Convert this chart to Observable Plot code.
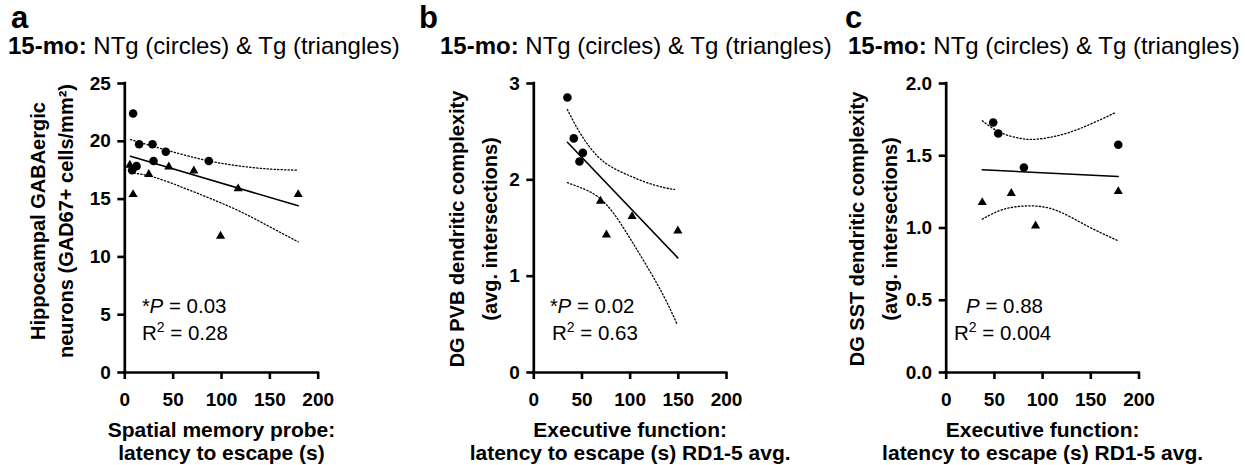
<!DOCTYPE html>
<html>
<head>
<meta charset="utf-8">
<script src="https://cdn.jsdelivr.net/npm/d3@7"></script>
<script src="https://cdn.jsdelivr.net/npm/@observablehq/plot@0.6"></script>
<style>
  html, body { margin: 0; padding: 0; background: #fff; }
  #root { position: relative; width: 1245px; height: 465px; overflow: hidden; background: #fff; }
  #root > .panel { position: absolute; top: 0; }
  #overlay { position: absolute; left: 0; top: 0; pointer-events: none; }
</style>
</head>
<body>
<div id="root"></div>
<script>
// ---------- shared labels ----------
const panelLetters = ["a", "b", "c"];
const titleBold = "15-mo:";
const titleRest = " NTg (circles) & Tg (triangles)";
const xTicks = [0, 50, 100, 150, 200];
const xLabels = [
  ["Spatial memory probe:", "latency to escape (s)"],
  ["Executive function:", "latency to escape (s) RD1-5 avg."],
  ["Executive function:", "latency to escape (s) RD1-5 avg."]
];
const yLabels = [
  ["Hippocampal GABAergic", "neurons (GAD67+ cells/mm²)"],
  ["DG PVB dendritic complexity", "(avg. intersections)"],
  ["DG SST dendritic complexity", "(avg. intersections)"]
];
const significance = ["*", "*", ""];
const pValues = ["0.03", "0.02", "0.88"];
const rSquared = ["0.28", "0.63", "0.004"];

// ---------- panel a ----------
const aYTicks = [0, 5, 10, 15, 20, 25];
const aNTgX = [8.6, 14.8, 28.6, 42.4, 29.7, 86.9, 12.1, 7.6];
const aNTgY = [22.4, 19.75, 19.75, 19.1, 18.3, 18.3, 17.85, 17.5];
const aTgX = [5.2, 8.6, 24.8, 45.5, 71.4, 117.2, 99.0, 179.3];
const aTgY = [17.95, 15.4, 17.15, 17.8, 17.45, 15.9, 11.8, 15.4];
const aFitX = [5.9, 179.3];
const aFitY = [18.71, 14.42];
const aUpperX = [5.9, 30, 60, 90, 120, 150, 179.3];
const aUpperY = [20.15, 19.55, 18.85, 18.25, 17.85, 17.6, 17.5];
const aLowerX = [5.9, 30, 60, 90, 120, 150, 179.3];
const aLowerY = [17.3, 16.9, 16.0, 15.0, 13.9, 12.6, 11.3];

// ---------- panel b ----------
const bYTicks = [0, 1, 2, 3];
const bNTgX = [34.9, 41.5, 50.9, 47.4];
const bNTgY = [2.855, 2.43, 2.28, 2.19];
const bTgX = [69.2, 75.4, 102.0, 149.5];
const bTgY = [1.78, 1.43, 1.62, 1.47];
const bFitX = [34.9, 149.5];
const bFitY = [2.39, 1.19];
const bUpperX = [34.9, 48.4, 65.7, 83, 100, 117.6, 135, 146];
const bUpperY = [2.73, 2.48, 2.25, 2.12, 2.04, 1.97, 1.92, 1.90];
const bLowerX = [34.9, 48.4, 65.7, 83, 100, 117.6, 135, 148.8];
const bLowerY = [1.97, 1.92, 1.83, 1.65, 1.39, 1.10, 0.79, 0.50];

// ---------- panel c ----------
const cYTicks = [0, 0.5, 1.0, 1.5, 2.0];
const cNTgX = [48.8, 54.0, 80.6, 178.5];
const cNTgY = [1.73, 1.654, 1.419, 1.576];
const cTgX = [37.4, 67.5, 92.7, 178.5];
const cTgY = [1.177, 1.24, 1.015, 1.253];
const cFitX = [37.4, 178.5];
const cFitY = [1.403, 1.356];
const cUpperX = [37.4, 56.4, 77.2, 94.5, 122, 150, 176];
const cUpperY = [1.742, 1.66, 1.62, 1.615, 1.65, 1.72, 1.80];
const cLowerX = [37.4, 59.9, 87.5, 115, 146, 178.5];
const cLowerY = [1.061, 1.13, 1.153, 1.12, 1.015, 0.911];

const pts = (xs, ys) => xs.map((x, i) => ({x, y: ys[i]}));

const panels = [
  {left: 0, marginLeft: 124.3, marginRight: 97.3, yDomain: [0, 25], yTicks: aYTicks, yFmt: d3.format("d"),
   ntg: pts(aNTgX, aNTgY), tg: pts(aTgX, aTgY), fit: pts(aFitX, aFitY),
   upper: pts(aUpperX, aUpperY), lower: pts(aLowerX, aLowerY),
   ylabDx: [-86, -58], ylabDy: -7},
  {left: 415, marginLeft: 118.3, marginRight: 104, yDomain: [0, 3], yTicks: bYTicks, yFmt: d3.format("d"),
   ntg: pts(bNTgX, bNTgY), tg: pts(bTgX, bTgY), fit: pts(bFitX, bFitY),
   upper: pts(bUpperX, bUpperY), lower: pts(bLowerX, bLowerY),
   ylabDx: [-76, -43], ylabDy: 1},
  {left: 830, marginLeft: 115.7, marginRight: 106.5, yDomain: [0, 2], yTicks: cYTicks, yFmt: d3.format(".1f"),
   ntg: pts(cNTgX, cNTgY), tg: pts(cTgX, cTgY), fit: pts(cFitX, cFitY),
   upper: pts(cUpperX, cUpperY), lower: pts(cLowerX, cLowerY),
   ylabDx: [-89, -55.5], ylabDy: 1}
];

const FONT = "'Liberation Sans', Arial, Helvetica, sans-serif";
const root = document.getElementById("root");

panels.forEach((p, i) => {
  const chart = Plot.plot({
    width: 415,
    height: 465,
    marginLeft: p.marginLeft,
    marginRight: p.marginRight,
    marginTop: 83,
    marginBottom: 93,
    x: {domain: [0, 200], ticks: xTicks},
    y: {domain: p.yDomain, ticks: p.yTicks},
    style: {fontFamily: FONT, fontSize: "19px", fontWeight: "bold", color: "black", background: "transparent", overflow: "visible"},
    marks: [
      Plot.axisX({ticks: xTicks, tickSize: 7, tickPadding: 13, strokeWidth: 2.6, fontSize: 19, fontWeight: "bold", label: null}),
      Plot.axisY({ticks: p.yTicks, tickSize: 7, tickPadding: 7, strokeWidth: 2.6, fontSize: 19, fontWeight: "bold", tickFormat: p.yFmt, label: null}),
      Plot.ruleX([0], {stroke: "black", strokeWidth: 2.7, strokeLinecap: "square"}),
      Plot.ruleY([0], {stroke: "black", strokeWidth: 2.7, strokeLinecap: "square"}),
      Plot.line(p.upper, {x: "x", y: "y", stroke: "black", strokeWidth: 1.3, strokeDasharray: "1.3 2.2", curve: "natural"}),
      Plot.line(p.lower, {x: "x", y: "y", stroke: "black", strokeWidth: 1.3, strokeDasharray: "1.3 2.2", curve: "natural"}),
      Plot.line(p.fit, {x: "x", y: "y", stroke: "black", strokeWidth: 1.6}),
      Plot.dot(p.ntg, {x: "x", y: "y", r: 4.3, fill: "black", stroke: "none", symbol: "circle"}),
      Plot.dot(p.tg, {x: "x", y: "y", r: 3.4, fill: "black", stroke: "none", symbol: "triangle"}),
      Plot.text([yLabels[i][0]], {text: d => d, frameAnchor: "left", textAnchor: "middle", lineAnchor: "middle", rotate: -90, dx: p.ylabDx[0], dy: p.ylabDy, fontSize: 20, fontWeight: "bold", fill: "black"}),
      Plot.text([yLabels[i][1]], {text: d => d, frameAnchor: "left", textAnchor: "middle", lineAnchor: "middle", rotate: -90, dx: p.ylabDx[1], dy: p.ylabDy, fontSize: 20, fontWeight: "bold", fill: "black"}),
      Plot.text([xLabels[i].join("\n")], {text: d => d, frameAnchor: "bottom", textAnchor: "middle", lineAnchor: "top", lineHeight: 1.095, dy: 48, fontSize: 21, fontWeight: "bold", fill: "black"})
    ]
  });
  chart.classList.add("panel");
  chart.style.left = p.left + "px";
  root.appendChild(chart);
});

// ---------- overlay: panel letters, titles, statistics ----------
const letterX = [11, 419, 845];
const titleX = [8, 440, 848];
const starX = [142, 550, null];
const pX = [149.5, 557.5, 966];
const rX = [142, 552, 954];

const ov = d3.select(root).append("svg")
  .attr("id", "overlay")
  .attr("width", 1245).attr("height", 465)
  .style("font-family", FONT);

panels.forEach((p, i) => {
  ov.append("text").attr("x", letterX[i]).attr("y", 28)
    .attr("font-size", 31).attr("font-weight", "bold").text(panelLetters[i]);

  const t = ov.append("text").attr("x", titleX[i]).attr("y", 54).attr("font-size", 24);
  t.append("tspan").attr("font-weight", "bold").text(titleBold);
  t.append("tspan").attr("font-weight", "normal").text(titleRest);

  if (significance[i]) {
    ov.append("text").attr("x", starX[i]).attr("y", 313).attr("font-size", 20).text(significance[i]);
  }
  const pt = ov.append("text").attr("x", pX[i]).attr("y", 313).attr("font-size", 20.5);
  pt.append("tspan").attr("font-style", "italic").text("P");
  pt.append("tspan").text(" = " + pValues[i]);

  const rt = ov.append("text").attr("x", rX[i]).attr("y", 340).attr("font-size", 20.5);
  rt.append("tspan").text("R");
  rt.append("tspan").attr("font-size", 14).attr("dy", -8).text("2");
  rt.append("tspan").attr("dy", 8).text(" = " + rSquared[i]);
});
</script>
</body>
</html>
